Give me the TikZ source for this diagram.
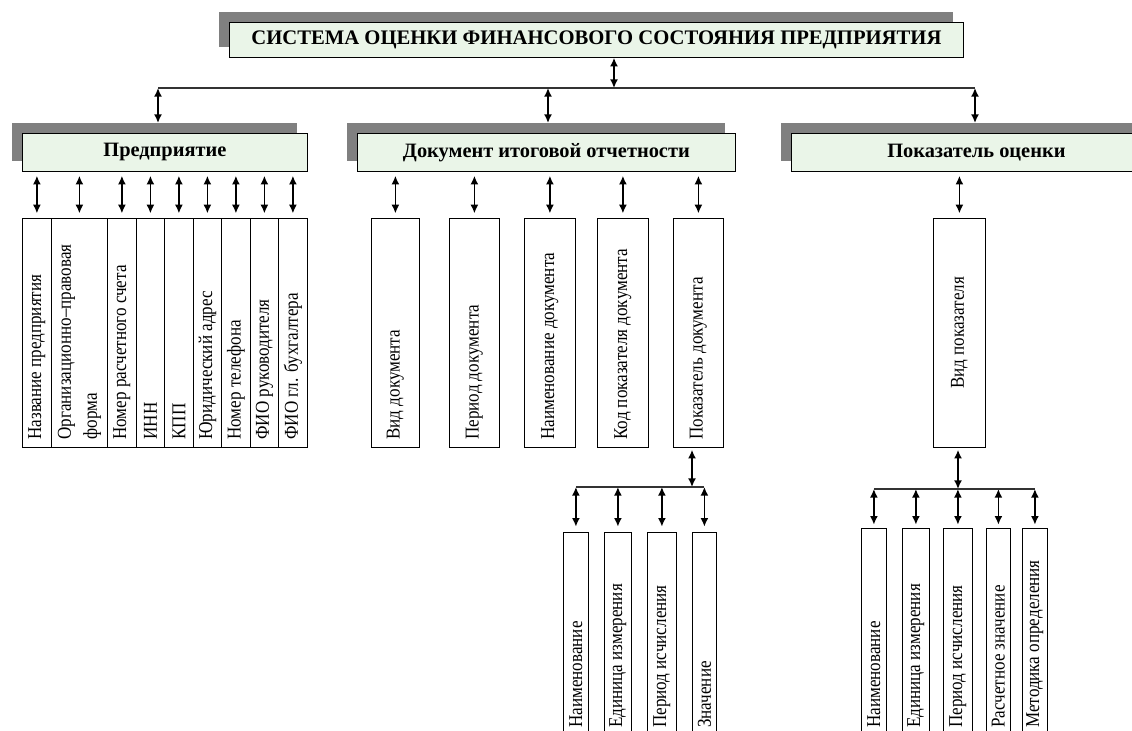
\documentclass[tikz,border=0pt]{standalone}
\usepackage{fontspec}
\setmainfont{Liberation Serif}
\usepackage{tikz}
\usetikzlibrary{arrows.meta}
\tikzset{>={Latex[length=6.5pt, width=6pt]}}
\usetikzlibrary{calc}
\usetikzlibrary{shadows}

\definecolor{hdrfill}{RGB}{234,245,232}
\definecolor{hdrshade}{RGB}{128,128,128}

\tikzset{
    px/.style 2 args={minimum width=#1*0.75pt, minimum height=#2*0.75pt},
    hdr/.style={draw, line width=0.6pt, fill=hdrfill, inner sep=0pt, anchor=north west,
        drop shadow={shadow xshift=-7.5pt, shadow yshift=7.5pt, fill=hdrshade, opacity=1}},
    hdrfont/.style={font=\fontsize{15.3}{17}\selectfont\bfseries},
    attr/.style={draw, line width=0.6pt, inner sep=0pt, anchor=north west,
        font=\fontsize{12.8}{17}\selectfont},
    biarrow/.style={<->, line width=1.2pt},
    bus/.style={draw=black!80, line width=0.8pt}
}

% rotated text, starting at the bottom of the box
\newcommand{\vtext}[2]{\rotatebox{90}{\scalebox{1}[1.15]{\parbox{#1}{\raggedright #2}}}}
\newcommand{\vtextc}[2]{\rotatebox{90}{\scalebox{1}[1.15]{\parbox{#1}{\centering #2}}}}

\begin{document}
\begin{tikzpicture}[x=0.75pt, y=-0.75pt]

    \useasboundingbox (0,0) rectangle (1132,731);
    \clip (0,0) rectangle (1132,731);

    % headers
    \node[hdr, px={734}{35}, font=\fontsize{15.5}{17}\selectfont\bfseries] (sys) at (229,22)
        {СИСТЕМА ОЦЕНКИ ФИНАНСОВОГО СОСТОЯНИЯ ПРЕДПРИЯТИЯ};
    \node[hdr, hdrfont, px={285}{38}] (ent) at (22,133) {Предприятие};
    \node[hdr, hdrfont, px={378}{38}] (doc) at (357,133) {Документ итоговой отчетности};
    \node[hdr, hdrfont, px={370}{38}] (ind) at (791,133) {Показатель оценки};

    % main bus
    \coordinate (sysout) at (614,88);
    \coordinate (j1) at (158,88);
    \coordinate (j2) at (548,88);
    \coordinate (j3) at (975,88);
    \draw[bus] (j1) -- (j3);
    \draw[biarrow] (sysout |- sys.south) -- (sysout);
    \foreach \j/\h in {j1/ent, j2/doc, j3/ind}
        \draw[biarrow] (\j) -- ($(\j |- \h.north)+(0,-10)$);

    % enterprise attributes
    \foreach \x/\w/\t [count=\i] in {22/29/{Название предприятия},
            51/56/{Организационно–правовая\\форма}, 107/29/{Номер расчетного счета},
            136/28/{ИНН}, 164/29/{КПП}, 193/28/{Юридический адрес},
            221/29/{Номер телефона}, 250/28/{ФИО руководителя}, 278/29/{ФИО гл. бухгалтера}} {
        \node[attr, px={\w}{229}] (e\i) at (\x,218) {\vtext{160pt}{\t}};
        \draw[biarrow, shorten <=3pt, shorten >=3.5pt] (e\i.north |- ent.south) -- (e\i.north);
    }

    % document attributes
    \foreach \x/\w/\t [count=\i] in {371/48/{Вид документа}, 449/50/{Период документа},
            524/51/{Наименование документа}, 597/51/{Код показателя документа},
            673/50/{Показатель документа}} {
        \node[attr, px={\w}{229}] (d\i) at (\x,218) {\vtext{160pt}{\t}};
        \draw[biarrow, shorten <=3pt, shorten >=3.5pt] (d\i.north |- doc.south) -- (d\i.north);
    }

    % indicator attribute
    \node[attr, px={52}{229}] (v1) at (933,218) {\vtextc{160pt}{Вид показателя}};
    \draw[biarrow, shorten <=3pt, shorten >=3.5pt] (v1.north |- ind.south) -- (v1.north);

    % values of document indicator
    \coordinate (dj) at (692,487);
    \draw[biarrow, shorten <=1.5pt] (dj |- d5.south) -- (dj);
    \foreach \x/\w/\t [count=\i] in {563/25/{Наименование}, 604/27/{Единица измерения},
            647/29/{Период исчисления}, 692/24/{Значение}} {
        \node[attr, px={\w}{204}] (s\i) at (\x,532) {\vtext{140pt}{\t}};
        \draw[biarrow, shorten >=4pt] (s\i.north |- dj) -- (s\i.north);
    }
    \draw[bus] (s1.north |- dj) -- (s4.north |- dj);

    % values of indicator type
    \coordinate (vj) at (958,489);
    \draw[biarrow, shorten <=1.5pt] (vj |- v1.south) -- (vj);
    \foreach \x/\w/\t [count=\i] in {861/25/{Наименование}, 902/27/{Единица измерения},
            943/29/{Период исчисления}, 986/24/{Расчетное значение}, 1022/25/{Методика определения}} {
        \node[attr, px={\w}{208}] (w\i) at (\x,528) {\vtext{143pt}{\t}};
        \draw[biarrow, shorten >=2.5pt] (w\i.north |- vj) -- (w\i.north);
    }
    \draw[bus] (w1.north |- vj) -- (w5.north |- vj);

\end{tikzpicture}
\end{document}
